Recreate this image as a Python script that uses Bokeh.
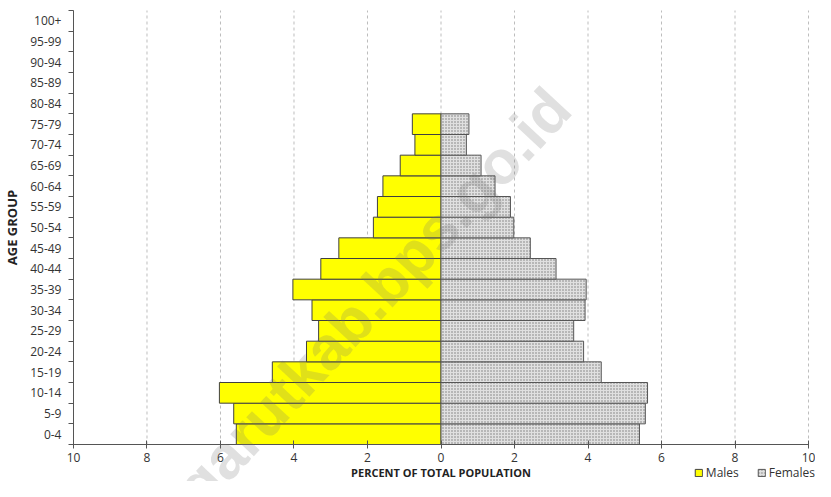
from bokeh.plotting import figure
from bokeh.models import (FixedTicker, CustomJSTickFormatter, Legend, LegendItem,
                          Label, ColumnDataSource)
from bokeh.embed import file_html
from bokeh.resources import INLINE
import math

age_groups = ["0-4", "5-9", "10-14", "15-19", "20-24", "25-29", "30-34", "35-39",
              "40-44", "45-49", "50-54", "55-59", "60-64", "65-69", "70-74", "75-79",
              "80-84", "85-89", "90-94", "95-99", "100+"]
males = [5.57, 5.64, 6.03, 4.59, 3.66, 3.33, 3.51, 4.03, 3.27, 2.78, 1.84, 1.73,
         1.58, 1.11, 0.71, 0.78, 0.0, 0.0, 0.0, 0.0, 0.0]
females = [5.40, 5.56, 5.62, 4.36, 3.88, 3.61, 3.92, 3.95, 3.13, 2.43, 1.98, 1.89,
           1.47, 1.09, 0.69, 0.76, 0.0, 0.0, 0.0, 0.0, 0.0]
x_ticks = [-10, -8, -6, -4, -2, 0, 2, 4, 6, 8, 10]

FONT = "Open Sans"
N = len(age_groups)
XMAX = 10

ypos = [i + 0.5 for i in range(N)]
keep = [i for i in range(N) if males[i] > 0 or females[i] > 0]
src = ColumnDataSource(dict(y=[ypos[i] for i in keep],
                            m=[-males[i] for i in keep],
                            f=[females[i] for i in keep]))

p = figure(width=815, height=481, output_backend="svg", toolbar_location=None,
           x_range=(-11.986, 10.19), y_range=(-1.79, 21.484), min_border=0)
p.outline_line_color = None
p.background_fill_color = "white"
p.border_fill_color = "white"
p.xgrid.visible = False
p.ygrid.visible = False

# dashed vertical grid lines, limited to the plot area
p.segment(x0=x_ticks, y0=[0] * len(x_ticks), x1=x_ticks, y1=[N] * len(x_ticks),
          line_color="#bdbdbd", line_dash="3 3", line_width=1)

rm = p.hbar(y="y", left="m", right=0, height=1.0, source=src,
            fill_color="#ffff00", line_color="#404040", line_width=1)
rf = p.hbar(y="y", left=0, right="f", height=1.0, source=src,
            fill_color="#e0e0e0", line_color="#555555", line_width=1,
            hatch_pattern="dot", hatch_color="#7a7a7a", hatch_scale=3,
            hatch_weight=1)

# x axis
xa = p.xaxis[0]
xa.fixed_location = 0
xa.bounds = (-XMAX, XMAX)
xa.ticker = FixedTicker(ticks=x_ticks)
xa.formatter = CustomJSTickFormatter(code="return Math.abs(tick).toString();")
xa.axis_label = "PERCENT OF TOTAL POPULATION"
xa.axis_label_text_font = FONT
xa.axis_label_text_font_style = "bold"
xa.axis_label_text_font_size = "11px"
xa.axis_label_text_color = "#222222"
xa.axis_label_standoff = 0
xa.major_label_text_font = FONT
xa.major_label_text_font_size = "12px"
xa.major_label_text_color = "#333333"
xa.major_label_standoff = 4
xa.major_tick_in = 4
xa.major_tick_out = 4
xa.minor_tick_line_color = None
xa.axis_line_color = "#555555"
xa.major_tick_line_color = "#555555"

# y axis
ya = p.yaxis[0]
ya.fixed_location = -XMAX
ya.bounds = (0, N)
ya.ticker = FixedTicker(ticks=ypos, minor_ticks=list(range(N + 1)))
ya.formatter = CustomJSTickFormatter(args=dict(labels=age_groups),
                                     code="return labels[Math.floor(tick)];")
ya.axis_label = "AGE GROUP"
ya.axis_label_text_font = FONT
ya.axis_label_text_font_style = "bold"
ya.axis_label_text_font_size = "13px"
ya.axis_label_text_color = "#222222"
ya.axis_label_standoff = 6
ya.major_label_text_font = FONT
ya.major_label_text_font_size = "12px"
ya.major_label_text_color = "#333333"
ya.major_label_standoff = 7
ya.major_tick_line_color = None
ya.major_tick_in = 0
ya.major_tick_out = 5
ya.minor_tick_in = 0
ya.minor_tick_out = 5
ya.minor_tick_line_color = "#555555"
ya.axis_line_color = "#555555"

# watermark
wm = Label(x=3.22, y=16.77, text="garutkab.bps.go.id", angle=math.radians(47),
           text_align="right", text_baseline="alphabetic",
           text_font="Liberation Sans", text_font_style="bold",
           text_font_size="61px", text_color="#707070", text_alpha=0.22)
p.add_layout(wm)

legend = Legend(items=[LegendItem(label="Males", renderers=[rm]),
                       LegendItem(label="Females", renderers=[rf])],
                orientation="horizontal", location="bottom_right",
                border_line_color=None, background_fill_alpha=0,
                label_text_font=FONT, label_text_font_size="12px",
                label_text_color="#333333", glyph_width=9, glyph_height=9,
                spacing=18, padding=0, margin=0, label_standoff=3)
p.add_layout(legend, "center")

open("out.html", "w").write(file_html(p, INLINE))
